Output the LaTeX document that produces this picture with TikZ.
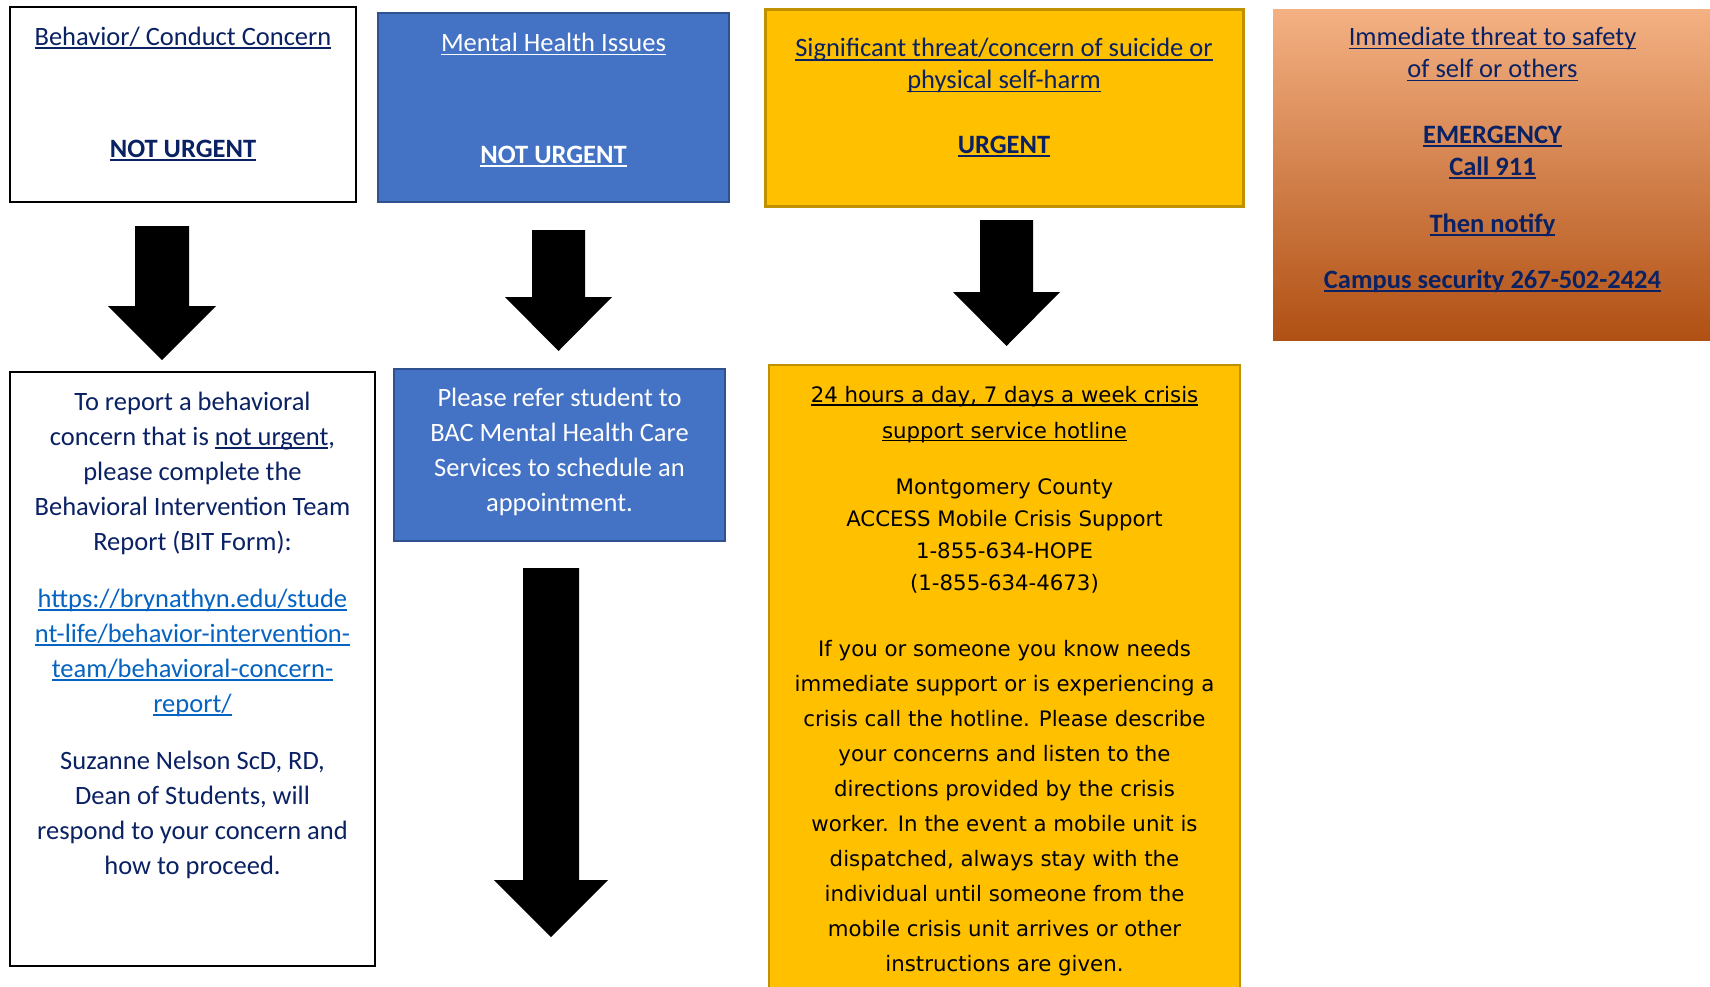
\documentclass[tikz,border=0pt]{standalone}
\usepackage{fontspec}
\setmainfont{Carlito}
\newfontfamily\vfont{DejaVu Sans}
\definecolor{mynavy}{HTML}{0A2163}
\definecolor{bfill}{HTML}{4472C4}
\definecolor{bdraw}{HTML}{2F528F}
\definecolor{yfill}{HTML}{FFC000}
\definecolor{ydraw}{HTML}{BF9000}
\definecolor{otop}{HTML}{F4B183}
\definecolor{omid}{HTML}{ED7D31}
\definecolor{obot}{HTML}{B05014}
\definecolor{linkc}{HTML}{0563C1}
\newcommand\myul[1]{\setbox0=\hbox{#1}\rlap{\rule[-0.15em]{\wd0}{0.07em}}\box0}
\newcommand\blockarr[6]{%
  \fill[black] ({#1-#5},#2) -- ({#1+#5},#2) -- ({#1+#5},#3) -- ({#1+#6},#3)
    -- (#1,#4) -- ({#1-#6},#3) -- ({#1-#5},#3) -- cycle;}
\tikzset{
  box/.style={rectangle, inner sep=0pt},
  ct/.style={anchor=base, inner sep=0pt, font=\fontsize{26.5}{32}\selectfont},
  vt/.style={anchor=base, inner sep=0pt, font=\vfont\fontsize{21.3}{32}\selectfont},
}
\begin{document}
\begin{tikzpicture}[x=1pt,y=-1pt]
\useasboundingbox (0,0) rectangle (1710,986);
\clip (0,0) rectangle (1710,986);
\fill[white] (0,0) rectangle (1710,986);

% top row boxes
\node[box, draw=black, line width=2.5pt, minimum width=346, minimum height=195] (bc) at (183,104.5) {};
\node[box, draw=bdraw, fill=bfill, line width=2pt, minimum width=351, minimum height=189] (mh) at (553.5,107.5) {};
\node[box, draw=ydraw, fill=yfill, line width=3pt, minimum width=478, minimum height=197] (st) at (1004,107.5) {};
\node[box, shade, top color=otop, middle color=omid, bottom color=obot, minimum width=442, minimum height=331] (it) at (1494,174.5) {};

% bottom row boxes
\node[box, draw=black, line width=2.5pt, minimum width=365, minimum height=594] (bit) at (192.5,669) {};
\node[box, draw=bdraw, fill=bfill, line width=2pt, minimum width=331, minimum height=172] (ref) at (559.5,455) {};
\node[box, draw=ydraw, fill=yfill, line width=2pt, minimum width=471, minimum height=645] (hot) at (1004.5,687.5) {};

% block arrows
\blockarr{162}{226}{306}{360}{27}{54}
\blockarr{558.5}{230}{297}{351}{26.5}{53.5}
\blockarr{1006.5}{220}{292}{346}{26.5}{53.5}
\blockarr{551}{568}{880}{937}{28}{57}

% texts box A
\node[ct, text=mynavy] (bct) at (183,45) {\myul{Behavior/ Conduct Concern}};
\node[ct, text=mynavy] (bcu) at (183,157) {\myul{\bfseries NOT URGENT}};
% box B
\node[ct, text=white] (mht) at (553.5,51.5) {\myul{Mental Health Issues}};
\node[ct, text=white] (mhu) at (553.5,163) {\myul{\bfseries NOT URGENT}};
% box C
\node[ct, text=mynavy] (st1) at (1004,56.7) {\myul{Significant threat/concern of suicide or}};
\node[ct, text=mynavy] (st2) at (1004,88.5) {\myul{physical self-harm}};
\node[ct, text=mynavy] (stu) at (1004,153) {\myul{\bfseries URGENT}};
% box D
\node[ct, text=mynavy] (it1) at (1492.5,45.5) {\myul{Immediate threat to safety}};
\node[ct, text=mynavy] (it2) at (1492.5,77.5) {\myul{of self or others}};
\node[ct, text=mynavy] (it3) at (1492.5,143) {\myul{\bfseries EMERGENCY}};
\node[ct, text=mynavy] (it4) at (1492.5,175) {\myul{\bfseries Call 911}};
\node[ct, text=mynavy] (it5) at (1492.5,232) {\myul{\bfseries Then notify}};
\node[ct, text=mynavy] (it6) at (1492.5,288) {\myul{\bfseries Campus security 267-502-2424}};

% box E
\foreach \t [count=\i from 0] in {To report a behavioral, {concern that is \myul{not urgent},}, please complete the, Behavioral Intervention Team, Report (BIT Form):}
  \node[ct, text=mynavy] (ea\i) at (192.5,{410+35*\i}) {\t};
\foreach \t [count=\i from 0] in {https://brynathyn.edu/stude, nt-life/behavior-intervention-, team/behavioral-concern-, report/}
  \node[ct, text=linkc] (eb\i) at (192.5,{607+35*\i}) {\myul{\t}};
\foreach \t [count=\i from 0] in {{Suzanne Nelson ScD, RD,}, {Dean of Students, will}, respond to your concern and, how to proceed.}
  \node[ct, text=mynavy] (ec\i) at (192.5,{769+35*\i}) {\t};

% box F
\foreach \t [count=\i from 0] in {Please refer student to, BAC Mental Health Care, Services to schedule an, appointment.}
  \node[ct, text=white] (fa\i) at (559.5,{406+35*\i}) {\t};

% box G
\node[vt, text=black] (g1) at (1004.5,402.5) {\myul{24 hours a day, 7 days a week crisis}};
\node[vt, text=black] (g2) at (1004.5,438) {\myul{support service hotline}};
\foreach \t [count=\i from 0] in {Montgomery County, ACCESS Mobile Crisis Support, 1-855-634-HOPE, (1-855-634-4673)}
  \node[vt, text=black] (gb\i) at (1004.5,{494+32.2*\i}) {\t};
\foreach \t [count=\i from 0] in {If you or someone you know needs, immediate support or is experiencing a, crisis call the hotline. Please describe, your concerns and listen to the, directions provided by the crisis, worker. In the event a mobile unit is, {dispatched, always stay with the}, individual until someone from the, mobile crisis unit arrives or other, instructions are given.}
  \node[vt, text=black] (gc\i) at (1004.5,{656+35*\i}) {\t};
\end{tikzpicture}
\end{document}
